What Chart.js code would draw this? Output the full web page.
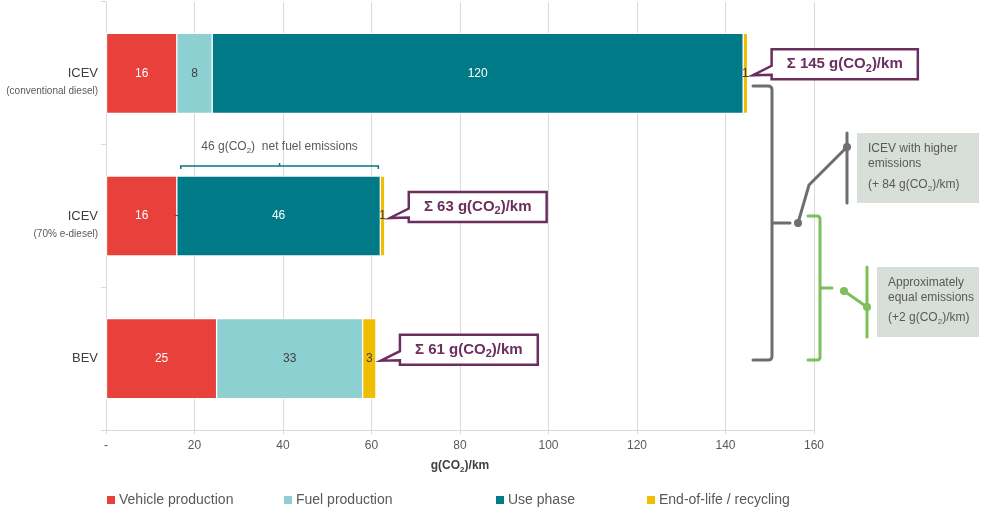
<!DOCTYPE html>
<html>
<head>
<meta charset="utf-8">
<script src="https://cdn.jsdelivr.net/npm/chart.js@4.4.1/dist/chart.umd.min.js"></script>
<style>
  html, body { margin: 0; padding: 0; background: #fff; }
</style>
</head>
<body>
<canvas id="chart" width="984" height="513"></canvas>
<script>
// vehicle rows and their emission shares in g(CO2)/km
const vehicles = ['ICEV', 'ICEV', 'BEV'];
const vehicleNotes = ['(conventional diesel)', '(70% e-diesel)', ''];
const vehicleProduction = [16, 16, 25];
const fuelProduction = [8, 0, 33];
const usePhase = [120, 46, null];
const endOfLife = [1, 1, 3];
const xTicks = [0, 20, 40, 60, 80, 100, 120, 140, 160];

const seriesNames = ['Vehicle production', 'Fuel production', 'Use phase', 'End-of-life / recycling'];
const seriesColors = ['#E8403A', '#8DD0D2', '#007A87', '#F0BE00'];
const labelColors = ['#ffffff', '#404040', '#ffffff', '#404040'];

const totals = vehicles.map((_, i) =>
  (vehicleProduction[i] || 0) + (fuelProduction[i] || 0) + (usePhase[i] || 0) + (endOfLife[i] || 0));

const PURPLE = '#6B2E5E';
const GREY = '#6D6E71';
const GREEN = '#7CBF5B';
const TEXT = '#595959';

// draws text where "_2" becomes a subscript 2
function drawSubText(ctx, text, x, y, size, weight, color, align) {
  const parts = text.split('_2');
  const main = weight + ' ' + size + 'px "Liberation Sans", Arial, sans-serif';
  const sub = weight + ' ' + Math.round(size * 0.7) + 'px "Liberation Sans", Arial, sans-serif';
  let width = 0;
  parts.forEach((p, k) => {
    ctx.font = main; width += ctx.measureText(p).width;
    if (k < parts.length - 1) { ctx.font = sub; width += ctx.measureText('2').width; }
  });
  let cx = align === 'center' ? x - width / 2 : (align === 'right' ? x - width : x);
  ctx.fillStyle = color;
  ctx.textAlign = 'left';
  ctx.textBaseline = 'middle';
  parts.forEach((p, k) => {
    ctx.font = main; ctx.fillText(p, cx, y); cx += ctx.measureText(p).width;
    if (k < parts.length - 1) {
      ctx.font = sub; ctx.fillText('2', cx, y + size * 0.28); cx += ctx.measureText('2').width;
    }
  });
  return width;
}

function callout(ctx, tipX, tipY, bx, by, text) {
  ctx.font = 'bold 15px "Liberation Sans", Arial, sans-serif';
  const w = ctx.measureText(text.replace('_2', '2')).width + 28;
  const h = 30;
  ctx.beginPath();
  ctx.moveTo(bx, by);
  ctx.lineTo(bx + w, by);
  ctx.lineTo(bx + w, by + h);
  ctx.lineTo(bx, by + h);
  ctx.lineTo(bx, by + h * 0.85);
  ctx.lineTo(tipX, tipY);
  ctx.lineTo(bx, by + h * 0.55);
  ctx.closePath();
  ctx.fillStyle = '#fff';
  ctx.fill();
  ctx.lineWidth = 2.5;
  ctx.lineJoin = 'miter';
  ctx.strokeStyle = PURPLE;
  ctx.stroke();
  drawSubText(ctx, text, bx + w / 2, by + h / 2, 15, 'bold', PURPLE, 'center');
}

function dot(ctx, x, y, color) {
  ctx.beginPath();
  ctx.arc(x, y, 4, 0, Math.PI * 2);
  ctx.fillStyle = color;
  ctx.fill();
}

function noteBox(ctx, x, y, w, h, lines, lineYs) {
  ctx.fillStyle = '#D8DFD9';
  ctx.fillRect(x, y, w, h);
  lines.forEach((l, k) => drawSubText(ctx, l, x + 11, y + lineYs[k], 12, 'normal', TEXT, 'left'));
}

const annotations = {
  id: 'annotations',
  afterDraw(chart) {
    const ctx = chart.ctx;
    const xs = chart.scales.x, ys = chart.scales.y;
    ctx.save();

    // values inside the bar segments
    chart.data.datasets.forEach((ds, d) => {
      const meta = chart.getDatasetMeta(d);
      meta.data.forEach((bar, i) => {
        const v = ds.data[i];
        if (v === null || v === undefined) return;
        const cx = (bar.x + bar.base) / 2;
        ctx.font = '12px "Liberation Sans", Arial, sans-serif';
        ctx.textAlign = 'center';
        ctx.textBaseline = 'middle';
        ctx.fillStyle = v === 0 ? '#404040' : labelColors[d];
        ctx.fillText(v === 0 ? '-' : String(v), cx, bar.y);
      });
    });

    // category labels
    vehicles.forEach((name, i) => {
      const y = ys.getPixelForValue(i);
      ctx.textAlign = 'right';
      ctx.textBaseline = 'middle';
      ctx.fillStyle = '#404040';
      ctx.font = '13px "Liberation Sans", Arial, sans-serif';
      ctx.fillText(name, 98, y);
      if (vehicleNotes[i]) {
        ctx.fillStyle = TEXT;
        ctx.font = '10px "Liberation Sans", Arial, sans-serif';
        ctx.fillText(vehicleNotes[i], 98, y + 18);
      }
    });

    // sum callouts
    vehicles.forEach((_, i) => {
      const y = ys.getPixelForValue(i);
      const tipX = xs.getPixelForValue(totals[i]) + 5;
      callout(ctx, tipX, y + 2, tipX + 19, y - 24, '\u03A3 ' + totals[i] + ' g(CO_2)/km');
    });

    // brace over the e-diesel use phase
    const row = 1;
    const bar1 = chart.getDatasetMeta(2).data[row];
    const bx0 = xs.getPixelForValue(vehicleProduction[row]) + 4;
    const bx1 = xs.getPixelForValue(vehicleProduction[row] + usePhase[row]) - 2;
    const by = bar1.y - bar1.height / 2 - 10;
    ctx.strokeStyle = '#007A87';
    ctx.lineWidth = 1.5;
    ctx.beginPath();
    ctx.moveTo(bx0, by + 3); ctx.lineTo(bx0, by); ctx.lineTo(bx1, by); ctx.lineTo(bx1, by + 3);
    ctx.moveTo((bx0 + bx1) / 2, by); ctx.lineTo((bx0 + bx1) / 2, by - 3);
    ctx.stroke();
    drawSubText(ctx, usePhase[row] + ' g(CO_2)  net fuel emissions', (bx0 + bx1) / 2, by - 19, 12, 'normal', TEXT, 'center');

    // grey bracket: conventional vs BEV
    ctx.lineCap = 'round';
    ctx.strokeStyle = GREY;
    ctx.lineWidth = 3;
    ctx.beginPath();
    ctx.moveTo(753, 86); ctx.lineTo(768, 86); ctx.quadraticCurveTo(772, 86, 772, 90);
    ctx.lineTo(772, 356); ctx.quadraticCurveTo(772, 360, 768, 360); ctx.lineTo(753, 360);
    ctx.moveTo(772, 223); ctx.lineTo(790, 223);
    ctx.stroke();
    ctx.beginPath();
    ctx.moveTo(798, 223); ctx.lineTo(809, 185); ctx.lineTo(847, 147);
    ctx.moveTo(847, 133); ctx.lineTo(847, 203);
    ctx.stroke();
    dot(ctx, 798, 223, GREY);
    dot(ctx, 847, 147, GREY);
    noteBox(ctx, 857, 133, 122, 70,
      ['ICEV with higher', 'emissions', '(+ ' + (totals[0] - totals[2]) + ' g(CO_2)/km)'], [16, 31, 52]);

    // green bracket: e-diesel vs BEV
    ctx.strokeStyle = GREEN;
    ctx.beginPath();
    ctx.moveTo(808, 216); ctx.lineTo(817, 216); ctx.quadraticCurveTo(820, 216, 820, 219);
    ctx.lineTo(820, 357); ctx.quadraticCurveTo(820, 360, 817, 360); ctx.lineTo(808, 360);
    ctx.moveTo(820, 288); ctx.lineTo(832, 288);
    ctx.stroke();
    ctx.beginPath();
    ctx.moveTo(844, 291); ctx.lineTo(867, 307);
    ctx.moveTo(867, 267); ctx.lineTo(867, 337);
    ctx.stroke();
    dot(ctx, 844, 291, GREEN);
    dot(ctx, 867, 307, GREEN);
    noteBox(ctx, 877, 267, 102, 70,
      ['Approximately', 'equal emissions', '(+' + (totals[1] - totals[2]) + ' g(CO_2)/km)'], [16, 31, 51]);

    // axis title
    drawSubText(ctx, 'g(CO_2)/km', (chart.chartArea.left + chart.chartArea.right) / 2, 466, 12, 'bold', '#404040', 'center');

    // legend
    const legendX = [107, 284, 496, 647];
    seriesNames.forEach((n, k) => {
      ctx.fillStyle = seriesColors[k];
      ctx.fillRect(legendX[k], 496, 8, 8);
      ctx.fillStyle = TEXT;
      ctx.font = '14px "Liberation Sans", Arial, sans-serif';
      ctx.textAlign = 'left';
      ctx.textBaseline = 'middle';
      ctx.fillText(n, legendX[k] + 12, 500);
    });

    ctx.restore();
  }
};

const seriesData = [vehicleProduction, fuelProduction, usePhase, endOfLife];

new Chart(document.getElementById('chart'), {
  type: 'bar',
  data: {
    labels: vehicles,
    datasets: seriesNames.map((n, k) => ({
      label: n,
      data: seriesData[k],
      backgroundColor: seriesColors[k],
      borderColor: '#ffffff',
      borderWidth: 1,
      borderSkipped: false,
      barThickness: 80
    }))
  },
  options: {
    indexAxis: 'y',
    responsive: false,
    animation: false,
    layout: { padding: { left: 100, right: 170, top: 2, bottom: 53 } },
    plugins: { legend: { display: false }, tooltip: { enabled: false } },
    scales: {
      x: {
        stacked: true,
        min: 0,
        max: 160,
        afterBuildTicks: s => { s.ticks = xTicks.map(v => ({ value: v })); },
        afterFit: s => { s.height = 30; },
        ticks: {
          padding: 4,
          color: TEXT,
          font: { family: '"Liberation Sans", Arial, sans-serif', size: 12 },
          callback: v => v === 0 ? '-' : v
        },
        grid: { color: '#D9D9D9', tickLength: 4, lineWidth: 1 },
        border: { color: '#D9D9D9' }
      },
      y: {
        stacked: true,
        afterFit: s => { s.width = 6; },
        ticks: { display: false },
        grid: { drawOnChartArea: false, drawTicks: true, tickLength: 5, color: '#D9D9D9', offset: true },
        border: { color: '#D9D9D9' }
      }
    }
  },
  plugins: [annotations]
});
</script>
</body>
</html>
